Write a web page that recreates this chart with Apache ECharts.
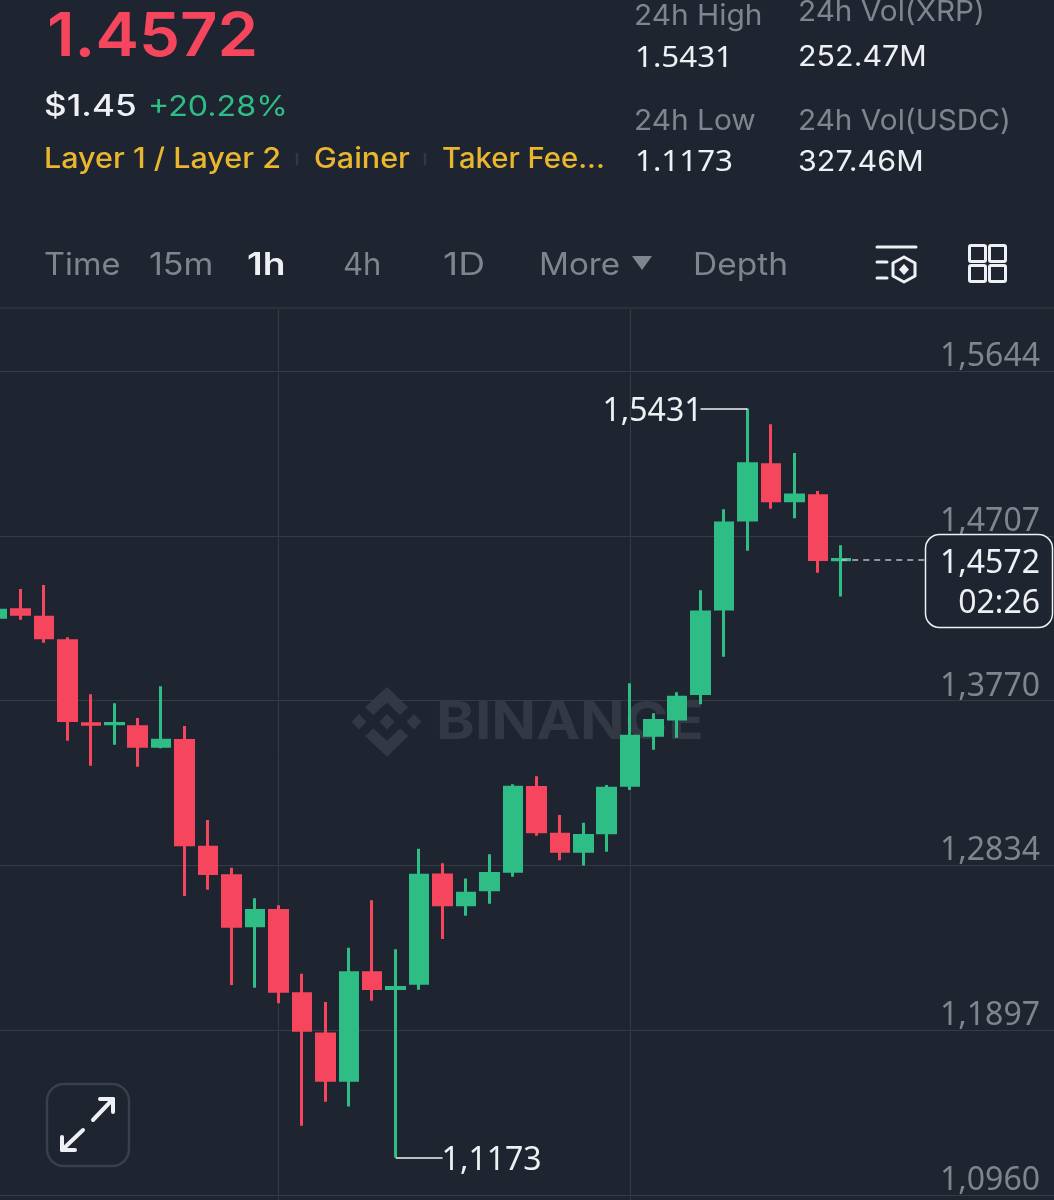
<!DOCTYPE html>
<html>
<head>
<meta charset="utf-8">
<title>XRP/USDC 1h</title>
<style>
  html, body { margin: 0; padding: 0; background: #1e2530; }
  #main { width: 1054px; height: 1200px; }
</style>
<script src="https://cdn.jsdelivr.net/npm/echarts@6/dist/echarts.min.js"></script>
</head>
<body>
<div id="main"></div>
<script>
// candle values
var opens = [1.4244, 1.4286, 1.4244, 1.4110, 1.3638, 1.3638, 1.3621, 1.3511, 1.3543, 1.2936, 1.2774, 1.2490, 1.2577, 1.2103, 1.1875, 1.1612, 1.2223, 1.2133, 1.2163, 1.2779, 1.2609, 1.2694, 1.2800, 1.3276, 1.3010, 1.2913, 1.3018, 1.3289, 1.3573, 1.3666, 1.3810, 1.4290, 1.4796, 1.5110, 1.4906, 1.4935, 1.4571];
var closes = [1.4284, 1.4261, 1.4127, 1.3657, 1.3636, 1.3640, 1.3511, 1.3545, 1.2950, 1.2787, 1.2487, 1.2577, 1.2118, 1.1896, 1.1612, 1.2223, 1.2133, 1.2139, 1.2777, 1.2609, 1.2675, 1.2787, 1.3278, 1.3024, 1.2913, 1.3003, 1.3272, 1.3567, 1.3657, 1.3789, 1.4273, 1.4779, 1.5116, 1.4906, 1.4938, 1.4572, 1.4572];
var lows = [1.4236, 1.4230, 1.4099, 1.3542, 1.3400, 1.3519, 1.3394, 1.3499, 1.2659, 1.2695, 1.2153, 1.2137, 1.2049, 1.1353, 1.1489, 1.1463, 1.2064, 1.1173, 1.2126, 1.2414, 1.2547, 1.2615, 1.2768, 1.3002, 1.2863, 1.2833, 1.2911, 1.3262, 1.3491, 1.3559, 1.3749, 1.4019, 1.4622, 1.4861, 1.4807, 1.4497, 1.4361];
var highs = [1.4293, 1.4405, 1.4427, 1.4130, 1.3806, 1.3755, 1.3671, 1.3851, 1.3625, 1.3091, 1.2820, 1.2646, 1.2606, 1.2217, 1.2056, 1.2365, 1.2635, 1.2356, 1.2928, 1.2846, 1.2758, 1.2896, 1.3294, 1.3340, 1.3120, 1.3076, 1.3290, 1.3868, 1.3698, 1.3817, 1.4397, 1.4858, 1.5431, 1.5341, 1.5178, 1.4962, 1.4653];
var priceTicks = [1.0960, 1.1897, 1.2834, 1.3770, 1.4707, 1.5644];
var highPrice = 1.5431;
var lowPrice = 1.1173;
var lastPrice = 1.4572;
var highIndex = 32;
var lowIndex = 17;
var lastIndex = 36;
var timeLines = [12, 27];

var RED = '#f6465d', GREEN = '#2ebd85', GOLD = '#e9b62d', GREY = '#7f858e', WHITE = '#eef0f3', DIM = '#333944';
var FONT = 'Inter, "Noto Sans", sans-serif';
var DIGITS = '"Noto Sans", sans-serif';

var categories = [];
for (var i = 0; i < 46; i++) categories.push(String(i));

var candles = opens.map(function (o, i) { return [o, closes[i], lows[i], highs[i]]; });

function comma(v) { return v.toFixed(4).replace('.', ','); }

function txt(x, y, s, size, color, weight, sx, family) {
  return { type: 'text', x: x, y: y, z: 5, silent: true, scaleX: sx || 1,
    style: { text: s, fill: color, font: (weight || 400) + ' ' + size + 'px ' + (family || FONT), verticalAlign: 'middle', align: 'left' } };
}
function line(pts, color, w) {
  return { type: 'polyline', z: 5, silent: true, shape: { points: pts },
    style: { stroke: color, lineWidth: w, fill: null, lineCap: 'round', lineJoin: 'round' } };
}
function poly(pts, fill, z) {
  return { type: 'polygon', z: z, silent: true, shape: { points: pts }, style: { fill: fill } };
}
function box(x, y, w, h, r, stroke, lw, fill, z) {
  return { type: 'rect', z: z || 5, silent: true, shape: { x: x, y: y, width: w, height: h, r: r },
    style: { stroke: stroke, lineWidth: lw, fill: fill || null } };
}

var chrome = [
  txt(47, 38, '1.4572', 61, RED, 600, 1.07),
  txt(44, 107, '$1.45', 30, WHITE, 500, 1.17),
  txt(148, 107, '+20.28%', 29, GREEN, 400, 1.11),
  txt(44, 160, 'Layer 1 / Layer 2', 28, GOLD, 500, 1.09),
  txt(314, 160, 'Gainer', 28, GOLD, 500, 1.09),
  txt(442, 160, 'Taker Fee...', 28, GOLD, 500, 1.045),
  line([[297, 154], [297, 164]], DIM, 2.5),
  line([[425, 154], [425, 164]], DIM, 2.5),
  txt(634, 16, '24h High', 29, GREY, 400, 1.03),
  txt(635, 59, '1.5431', 29, WHITE, 400, 1.08, DIGITS),
  txt(798, 12, '24h Vol(XRP)', 29, GREY, 400, 1.025),
  txt(798, 57, '252.47M', 29, WHITE, 400, 1.05),
  txt(634, 121, '24h Low', 29, GREY, 400, 1.03),
  txt(635, 163, '1.1173', 29, WHITE, 400, 1.08, DIGITS),
  txt(798, 121, '24h Vol(USDC)', 29, GREY, 400, 1.025),
  txt(798, 162, '327.46M', 29, WHITE, 400, 1.05),
  txt(44, 266, 'Time', 31, GREY, 400, 1.05),
  txt(149, 266, '15m', 31, GREY, 400, 1.1),
  txt(247, 266, '1h', 31, WHITE, 600, 1.2),
  txt(343, 266, '4h', 31, GREY),
  txt(443, 266, '1D', 31, GREY, 400, 1.2),
  txt(539, 266, 'More', 31, GREY, 400, 1.07),
  poly([[632, 256], [652, 256], [642, 270]], GREY, 5),
  txt(693, 266, 'Depth', 31, GREY, 400, 1.08),
  line([[877, 247], [916, 247]], WHITE, 3),
  line([[877, 262], [887, 262]], WHITE, 3),
  line([[877, 278], [887, 278]], WHITE, 3),
  line([[904, 257], [915, 263], [915, 276], [904, 282], [893, 276], [893, 263], [904, 257]], WHITE, 3),
  poly([[904, 264], [909, 269.5], [904, 275], [899, 269.5]], WHITE, 5),
  box(969.5, 245.5, 16, 16, 1.5, WHITE, 3),
  box(989.5, 245.5, 16, 16, 1.5, WHITE, 3),
  box(969.5, 265.5, 16, 16, 1.5, WHITE, 3),
  box(989.5, 265.5, 16, 16, 1.5, WHITE, 3),
  line([[0, 308], [1054, 308]], '#2b313b', 2),
  // expand button
  box(47, 1084, 82, 82, 17, '#3a404b', 2.5),
  line([[93, 1120], [113, 1099]], WHITE, 4),
  line([[100, 1099], [113, 1099], [113, 1112]], WHITE, 4),
  line([[83, 1130], [62, 1150]], WHITE, 4),
  line([[62, 1137], [62, 1150], [75, 1150]], WHITE, 4),
  // last price box, above the dashed line
  box(925.5, 534.5, 127, 93, 14, WHITE, 1.5, '#1e2530', 50),
  { type: 'text', x: 1040, y: 564, z: 51, silent: true, style: { text: comma(lastPrice), fill: WHITE, font: '400 32px ' + DIGITS, align: 'right', verticalAlign: 'middle' } },
  { type: 'text', x: 1040, y: 604, z: 51, silent: true, style: { text: '02:26', fill: WHITE, font: '400 32px ' + DIGITS, align: 'right', verticalAlign: 'middle' } },
  // watermark
  { type: 'text', x: 436, y: 723, z: -1, scaleX: 1.13, silent: true, style: { text: 'BINANCE', fill: '#333944', font: '700 52px ' + FONT, verticalAlign: 'middle', align: 'left' } },
  poly([[387, 714], [394.5, 721.7], [387, 729.5], [379.5, 721.7]], '#333944', -1),
  poly([[359, 714], [366.5, 721.7], [359, 729.5], [351.5, 721.7]], '#333944', -1),
  poly([[414, 714], [421.5, 721.7], [414, 729.5], [406.5, 721.7]], '#333944', -1),
  poly([[387, 687], [365, 707.3], [373.3, 715], [387, 702.7], [400, 715], [408.3, 707.3]], '#333944', -1),
  poly([[387, 756.7], [365, 736], [373.3, 728.4], [387, 740.7], [400, 728.4], [408.3, 736]], '#333944', -1)
];

var myChart = echarts.init(document.getElementById('main'));
var option = {
  backgroundColor: '#1e2530',
  animation: false,
  graphic: chrome,
  grid: { left: -14.7, right: -10, top: 309, bottom: 0, outerBoundsMode: 'none' },
  xAxis: {
    type: 'category',
    data: categories,
    boundaryGap: true,
    axisLine: { show: false },
    axisTick: { show: false },
    axisLabel: { show: false },
    splitLine: {
      show: true,
      alignWithLabel: true,
      interval: function (index) { return timeLines.indexOf(index) >= 0; },
      lineStyle: { color: '#353b45', width: 1 }
    }
  },
  yAxis: {
    type: 'value',
    position: 'right',
    min: 1.0931,
    max: 1.5996,
    axisLine: { show: false },
    axisTick: { show: false, customValues: priceTicks },
    axisLabel: {
      inside: true,
      customValues: priceTicks,
      margin: 24,
      align: 'right',
      verticalAlign: 'bottom',
      lineHeight: 28,
      color: GREY,
      fontFamily: DIGITS,
      fontSize: 32,
      formatter: comma
    },
    splitLine: { show: true, lineStyle: { color: '#353b45', width: 1 } }
  },
  series: [{
    type: 'candlestick',
    data: candles,
    barWidth: 18,
    itemStyle: { color: GREEN, color0: RED, borderColor: GREEN, borderColor0: RED, borderWidth: 3 },
    markLine: {
      silent: true,
      symbol: 'none',
      animation: false,
      data: [
        [{ coord: [highIndex, highPrice], lineStyle: { color: WHITE, width: 1.5, type: 'solid' },
           label: { show: true, position: 'end', distance: 2, offset: [4, 3], formatter: comma(highPrice), color: WHITE, fontFamily: DIGITS, fontSize: 32 } },
         { coord: [30, highPrice] }],
        [{ coord: [lowIndex, lowPrice], lineStyle: { color: WHITE, width: 1.5, type: 'solid' },
           label: { show: true, position: 'end', distance: 2, offset: [-3, 3], formatter: comma(lowPrice), color: WHITE, fontFamily: DIGITS, fontSize: 32 } },
         { coord: [19, lowPrice] }],
        [{ coord: [lastIndex, lastPrice], lineStyle: { color: '#b9bdc3', width: 1.5, type: [6, 5] }, label: { show: false } },
         { coord: [40, lastPrice] }]
      ]
    }
  }]
};
option && myChart.setOption(option);
</script>
</body>
</html>
